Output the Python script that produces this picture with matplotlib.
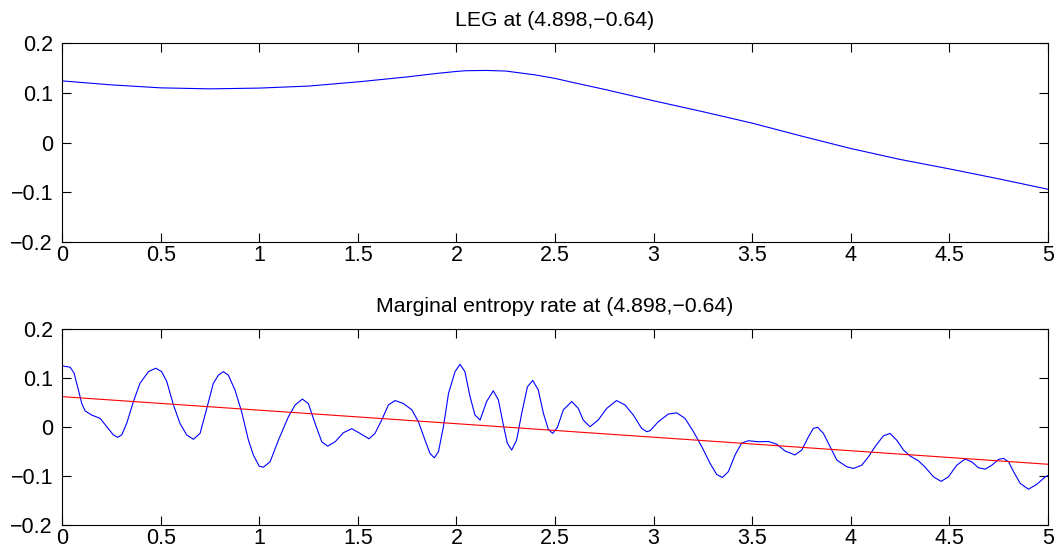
import numpy as np
import matplotlib.pyplot as plt

plt.rcParams['font.family'] = ['Liberation Sans', 'DejaVu Sans']

# top panel: LEG curve
leg_x = [0, 0.25, 0.5, 0.75, 1.0, 1.25, 1.5, 1.75, 1.9, 2.0, 2.05, 2.15,
         2.25, 2.4, 2.5, 2.6, 2.75, 3.0, 3.25, 3.5, 3.75, 4.0, 4.25, 4.5,
         4.75, 5.0]
leg_y = [0.124, 0.116, 0.110, 0.108, 0.1095, 0.1136, 0.122, 0.132, 0.139,
         0.143, 0.1445, 0.145, 0.1438, 0.136, 0.129, 0.120, 0.107, 0.084,
         0.062, 0.039, 0.013, -0.012, -0.034, -0.053, -0.073, -0.094]

# bottom panel: marginal entropy rate
mer_x = [0.0, 0.041, 0.061, 0.083, 0.100, 0.117, 0.15, 0.193, 0.227, 0.260,
         0.282, 0.303, 0.328, 0.362, 0.395, 0.438, 0.475, 0.505, 0.531,
         0.565, 0.598, 0.632, 0.666, 0.700, 0.734, 0.767, 0.793, 0.818,
         0.843, 0.877, 0.911, 0.945, 0.97, 1.0, 1.021, 1.055, 1.097, 1.148,
         1.182, 1.219, 1.249, 1.283, 1.317, 1.347, 1.385, 1.427, 1.469,
         1.511, 1.557, 1.587, 1.621, 1.655, 1.689, 1.731, 1.774, 1.807,
         1.841, 1.866, 1.888, 1.909, 1.934, 1.960, 1.993, 2.018, 2.043,
         2.069, 2.094, 2.12, 2.153, 2.187, 2.213, 2.238, 2.258, 2.28, 2.305,
         2.331, 2.36, 2.387, 2.415, 2.441, 2.466, 2.488, 2.512, 2.542, 2.585,
         2.618, 2.643, 2.677, 2.719, 2.762, 2.812, 2.855, 2.897, 2.939,
         2.965, 2.982, 3.024, 3.075, 3.117, 3.159, 3.202, 3.244, 3.286,
         3.320, 3.349, 3.379, 3.413, 3.446, 3.48, 3.531, 3.582, 3.624, 3.667,
         3.717, 3.751, 3.785, 3.81, 3.832, 3.861, 3.895, 3.929, 3.979, 4.013,
         4.055, 4.089, 4.123, 4.165, 4.199, 4.233, 4.267, 4.3, 4.343, 4.377,
         4.419, 4.458, 4.495, 4.537, 4.579, 4.613, 4.647, 4.681, 4.715,
         4.749, 4.774, 4.8, 4.825, 4.859, 4.901, 4.944, 4.986, 5.0]
mer_y = [0.125, 0.122, 0.110, 0.0757, 0.048, 0.033, 0.0245, 0.0177, 0.0006,
         -0.016, -0.021, -0.016, 0.0075, 0.052, 0.089, 0.113, 0.120, 0.113,
         0.093, 0.045, 0.0075, -0.016, -0.025, -0.013, 0.038, 0.089, 0.106,
         0.113, 0.106, 0.0757, 0.031, -0.0266, -0.057, -0.080, -0.082,
         -0.071, -0.027, 0.021, 0.045, 0.057, 0.048, 0.0075, -0.030, -0.039,
         -0.030, -0.0116, -0.0034, -0.013, -0.024, -0.013, 0.0143, 0.045,
         0.054, 0.048, 0.035, 0.011, -0.027, -0.054, -0.063, -0.050, 0.0006,
         0.069, 0.113, 0.128, 0.113, 0.062, 0.0245, 0.0143, 0.052, 0.074,
         0.055, 0.004, -0.033, -0.047, -0.027, 0.028, 0.082, 0.095, 0.0757,
         0.028, -0.0047, -0.013, -0.0007, 0.035, 0.052, 0.038, 0.0143,
         0.0006, 0.0143, 0.038, 0.054, 0.045, 0.0245, -0.0027, -0.0095,
         -0.0075, 0.011, 0.0266, 0.029, 0.0177, -0.0095, -0.040, -0.074,
         -0.097, -0.103, -0.091, -0.057, -0.033, -0.028, -0.030, -0.0295,
         -0.035, -0.049, -0.057, -0.047, -0.020, -0.0027, -0.0007, -0.013,
         -0.040, -0.0675, -0.081, -0.0845, -0.078, -0.061, -0.040, -0.018,
         -0.013, -0.027, -0.047, -0.059, -0.069, -0.082, -0.1016, -0.111,
         -0.1016, -0.078, -0.0654, -0.071, -0.083, -0.086, -0.078, -0.066,
         -0.064, -0.071, -0.091, -0.115, -0.127, -0.1166, -0.1016, -0.099]

# linear trend line endpoints
trend_x = [0, 5]
trend_y = [0.062, -0.076]

xticks = [0, 0.5, 1, 1.5, 2, 2.5, 3, 3.5, 4, 4.5, 5]
xlabels = ['0', '0.5', '1', '1.5', '2', '2.5', '3', '3.5', '4', '4.5', '5']
yticks = [-0.2, -0.1, 0, 0.1, 0.2]
ylabels = ['\u22120.2', '\u22120.1', '0', '0.1', '0.2']

fig = plt.figure(figsize=(10.55, 5.54), dpi=100)
ax1 = fig.add_axes([0.0588, 0.5632, 0.9346, 0.3590])
ax2 = fig.add_axes([0.0588, 0.0523, 0.9346, 0.3538])

ax1.plot(leg_x, leg_y, color='#0000ff', lw=0.8)
ax2.plot(mer_x, mer_y, color='#0000ff', lw=0.8)
ax2.plot(trend_x, trend_y, color='#ff0000', lw=0.8)

ax1.set_title('LEG at (4.898,\u22120.64)', fontsize=15.3, pad=12.5)
ax2.set_title('Marginal entropy rate at (4.898,\u22120.64)', fontsize=15.3, pad=12.5)

for ax in (ax1, ax2):
    ax.set_xlim(0, 5)
    ax.set_ylim(-0.2, 0.2)
    ax.set_xticks(xticks)
    ax.set_xticklabels(xlabels)
    ax.set_yticks(yticks)
    ax.set_yticklabels(ylabels)
    ax.tick_params(direction='in', length=6.5, width=0.8, top=True, right=True,
                   labelsize=15.5, colors='black')
    ax.tick_params(axis='x', pad=2)
    ax.tick_params(axis='y', pad=6.5)
    for s in ax.spines.values():
        s.set_linewidth(0.8)

fig.savefig('out.png', dpi=100)
